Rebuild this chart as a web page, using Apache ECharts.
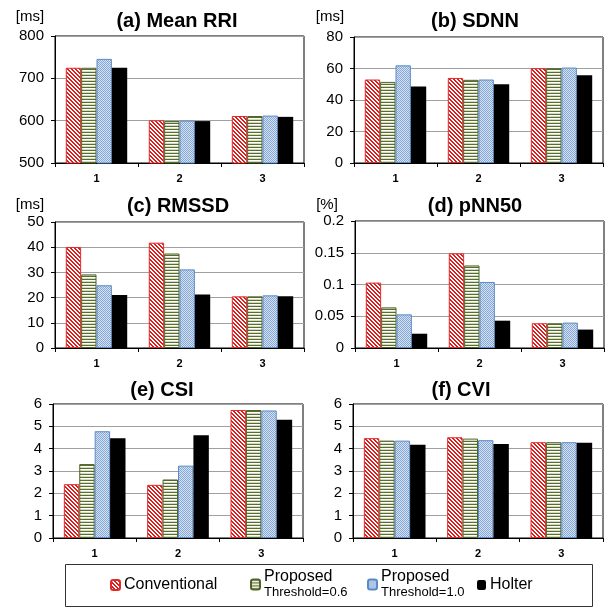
<!DOCTYPE html>
<html>
<head>
<meta charset="utf-8">
<script src="https://cdn.jsdelivr.net/npm/echarts@6/dist/echarts.min.js"></script>
<style>
html,body{margin:0;padding:0;background:#fff;}
#c{width:608px;height:608px;}
</style>
</head>
<body>
<div id="c"></div>
<script>
// ---------------- DATA ----------------
const categories = ['1', '2', '3'];
const seriesNames = ['Conventional', 'Proposed0.6', 'Proposed1.0', 'Holter'];
// rows: Conventional, Proposed (Th=0.6), Proposed (Th=1.0), Holter ; columns: category 1,2,3
const meanRRI = [[725, 601, 611], [725, 599, 611], [746, 600, 612], [725, 599, 609]];
const sdnn    = [[53, 54, 60.2], [51.5, 52.8, 60.2], [62, 53, 60.6], [48.5, 50, 55.7]];
const rmssd   = [[40.1, 41.8, 20.5], [29.2, 37.5, 20.5], [24.9, 31.2, 20.9], [21, 21.2, 20.5]];
const pnn50   = [[0.103, 0.149, 0.039], [0.064, 0.130, 0.039], [0.053, 0.104, 0.040], [0.0225, 0.043, 0.029]];
const csi     = [[2.41, 2.38, 5.73], [3.31, 2.62, 5.73], [4.78, 3.24, 5.71], [4.47, 4.60, 5.29]];
const cvi     = [[4.47, 4.51, 4.29], [4.36, 4.45, 4.29], [4.36, 4.38, 4.29], [4.18, 4.21, 4.26]];
const panelTitles = ['(a) Mean RRI', '(b) SDNN', '(c) RMSSD', '(d) pNN50', '(e) CSI', '(f) CVI'];
const unitLabels  = ['[ms]', '[ms]', '[ms]', '[%]', '', ''];
const yMins      = [500, 0, 0, 0, 0, 0];
const yMaxs      = [800, 80, 50, 0.2, 6, 6];
const yIntervals = [100, 20, 10, 0.05, 1, 1];
const panelData  = [meanRRI, sdnn, rmssd, pnn50, csi, cvi];

// ---------------- LAYOUT / STYLE ----------------
const FONT = 'Liberation Sans';
const layout = [
  {grid:{left:55, top:36, width:249, height:127}, tx:177, ty:21, ux:30, uy:17},
  {grid:{left:354, top:37, width:249, height:126}, tx:475, ty:21, ux:330, uy:17},
  {grid:{left:55, top:222, width:249, height:126}, tx:178, ty:206, ux:30, uy:205},
  {grid:{left:355, top:221, width:249, height:127}, tx:475, ty:206, ux:327, uy:205},
  {grid:{left:53, top:404, width:250, height:134}, tx:162, ty:390},
  {grid:{left:353, top:404, width:250, height:134}, tx:461, ty:390}
];

function pattern(kind) {
  const c = document.createElement('canvas');
  let ctx;
  if (kind === 0) {
    c.width = 4; c.height = 4; ctx = c.getContext('2d');
    for (let y = 0; y < 4; y++) for (let x = 0; x < 4; x++) {
      ctx.fillStyle = (((x - y) % 4 + 4) % 4 < 2) ? '#ffffff' : '#dd1c1c';
      ctx.fillRect(x, y, 1, 1);
    }
  } else if (kind === 1) {
    c.width = 4; c.height = 3; ctx = c.getContext('2d');
    const rows = ['#5a6e2c', '#ffffff', '#d3dac2'];
    rows.forEach((col, i) => { ctx.fillStyle = col; ctx.fillRect(0, i, 4, 1); });
  } else {
    c.width = 2; c.height = 2; ctx = c.getContext('2d');
    for (let y = 0; y < 2; y++) for (let x = 0; x < 2; x++) {
      ctx.fillStyle = ((x + y) % 2 === 0) ? '#86a8d6' : '#d6e2f2';
      ctx.fillRect(x, y, 1, 1);
    }
  }
  return {image: c, repeat: 'repeat'};
}
const fills = [pattern(0), pattern(1), pattern(2), '#000000'];
const borders = ['#e02a2a', '#4f6228', '#5b8ac6', '#000000'];

const grids = [], xAxes = [], yAxes = [], series = [], graphics = [];
panelData.forEach((pd, p) => {
  const L = layout[p];
  grids.push(Object.assign({show: true, borderColor: '#000', borderWidth: 1, backgroundColor: 'transparent'}, L.grid));
  xAxes.push({
    type: 'category', gridIndex: p, data: categories,
    axisLine: {show: true, lineStyle: {color: '#000', width: 1}},
    axisTick: {show: true, length: 4, lineStyle: {color: '#000'}},
    axisLabel: {color: '#000', fontFamily: FONT, fontSize: 11, fontWeight: 'bold', margin: 10}
  });
  yAxes.push({
    type: 'value', gridIndex: p, min: yMins[p], max: yMaxs[p], interval: yIntervals[p],
    axisLine: {show: true, lineStyle: {color: '#000', width: 1}},
    axisTick: {show: true, length: 4, lineStyle: {color: '#000'}},
    axisLabel: {color: '#000', fontFamily: FONT, fontSize: 15, margin: 11},
    splitLine: {show: true, lineStyle: {color: '#a0a0a0', width: 1}}
  });
  pd.forEach((vals, s) => {
    series.push({
      type: 'bar', name: seriesNames[s], xAxisIndex: p, yAxisIndex: p,
      data: vals, barGap: '0%', barCategoryGap: '26%',
      itemStyle: {color: fills[s], borderColor: borders[s], borderWidth: s === 3 ? 0 : 1},
      emphasis: {disabled: true}, animation: false
    });
  });
  graphics.push({type: 'text', x: L.tx, y: L.ty, style: {text: panelTitles[p], fontFamily: FONT, fontSize: 20, fontWeight: 'bold', fill: '#000', textAlign: 'center', textVerticalAlign: 'middle'}});
  if (unitLabels[p]) {
    graphics.push({type: 'text', x: L.ux, y: L.uy, style: {text: unitLabels[p], fontFamily: FONT, fontSize: 15, fill: '#000', textAlign: 'center', textVerticalAlign: 'middle'}});
  }
});
graphics.push({type: 'rect', shape: {x: 65.5, y: 564.5, width: 527, height: 42}, style: {fill: 'none', stroke: '#333', lineWidth: 1}});

const legendLabels = {
  'Conventional': '{a|Conventional}',
  'Proposed0.6': '{a|Proposed}\n{b|Threshold=0.6}',
  'Proposed1.0': '{a|Proposed}\n{b|Threshold=1.0}',
  'Holter': '{a|Holter}'
};
const legendX = [110, 250, 367, 477];
const legendTop = [577, 569, 569, 577];
const legends = seriesNames.map((n, i) => ({
  data: [n], left: legendX[i], top: legendTop[i], orient: 'horizontal',
  itemWidth: 9, itemHeight: 10, itemGap: 0, padding: 0, selectedMode: false,
  formatter: name => legendLabels[name],
  textStyle: {color: '#000', fontFamily: FONT, padding: [0, 0, 0, -1],
    rich: {a: {fontSize: 16, fontFamily: FONT, color: '#000', lineHeight: 16},
           b: {fontSize: 13, fontFamily: FONT, color: '#000', lineHeight: 15}}}
}));

const chart = echarts.init(document.getElementById('c'), null, {renderer: 'canvas'});
chart.setOption({
  backgroundColor: '#fff', animation: false,
  grid: grids, xAxis: xAxes, yAxis: yAxes, series: series,
  legend: legends, graphic: graphics
});
</script>
</body>
</html>
